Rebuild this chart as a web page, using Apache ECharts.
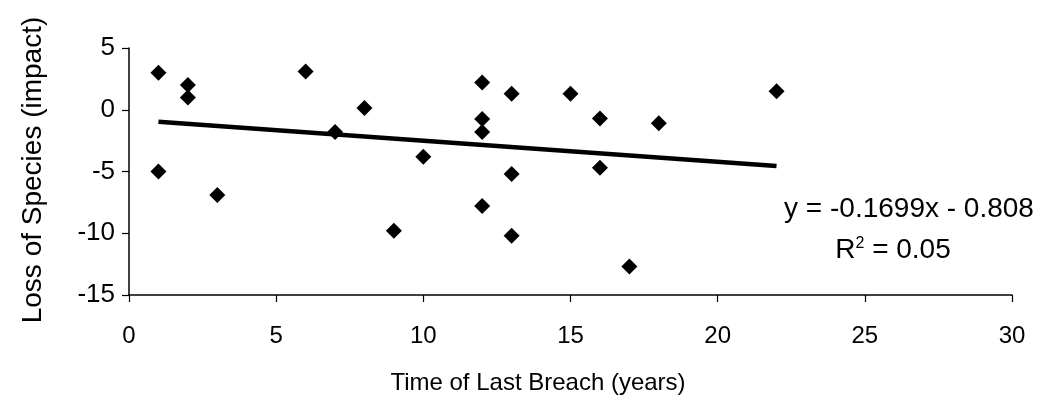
<!DOCTYPE html>
<html>
<head>
<meta charset="utf-8">
<script src="https://cdn.jsdelivr.net/npm/echarts@6/dist/echarts.min.js"></script>
<style>
  html, body { margin: 0; padding: 0; background: #fff; }
  #chart { width: 1043px; height: 408px; }
</style>
</head>
<body>
<div id="chart"></div>
<script>
// Years since the last breach, and the matching loss of species (impact)
const breachYears = [1, 1, 2, 2, 3, 6, 7, 8, 9, 10, 12, 12, 12, 12, 13, 13, 13, 15, 16, 16, 17, 18, 22];
const speciesLoss = [3, -5, 2, 1, -6.9, 3.1, -1.8, 0.15, -9.8, -3.8, 2.2, -0.75, -1.8, -7.8, 1.3, -5.2, -10.2, 1.3, -0.7, -4.7, -12.7, -1.1, 1.5];

// Linear fit reported on the chart
const fitSlope = -0.1699;
const fitIntercept = -0.808;
const fitR2 = 0.05;

// Axis ticks
const xTicks = [0, 5, 10, 15, 20, 25, 30];
const yTicks = [-15, -10, -5, 0, 5];

const points = breachYears.map((x, i) => [x, speciesLoss[i]]);
const xLo = Math.min(...breachYears);
const xHi = Math.max(...breachYears);
const fitLine = [xLo, xHi].map(x => [x, fitSlope * x + fitIntercept]);

const FONT = '"Liberation Sans", Arial, Helvetica, sans-serif';

const chart = echarts.init(document.getElementById('chart'), null, { renderer: 'canvas' });

chart.setOption({
  backgroundColor: '#ffffff',
  animation: false,
  grid: { left: 129, right: 31, top: 48, bottom: 113, containLabel: false },
  xAxis: {
    type: 'value',
    min: xTicks[0],
    max: xTicks[xTicks.length - 1],
    interval: 5,
    axisLine: { show: true, onZero: false, lineStyle: { color: '#000', width: 1.5 } },
    axisTick: { show: true, inside: false, length: 7, lineStyle: { color: '#000', width: 1.2 } },
    axisLabel: { color: '#000', fontSize: 24, fontFamily: FONT, margin: 29 },
    splitLine: { show: false }
  },
  yAxis: {
    type: 'value',
    min: yTicks[0],
    max: yTicks[yTicks.length - 1],
    interval: 5,
    axisLine: { show: true, onZero: false, lineStyle: { color: '#000', width: 1.5 } },
    axisTick: { show: true, inside: false, length: 7, lineStyle: { color: '#000', width: 1.2 } },
    axisLabel: { color: '#000', fontSize: 26, fontFamily: FONT, margin: 14 },
    splitLine: { show: false }
  },
  series: [
    {
      name: 'Observations',
      type: 'scatter',
      data: points,
      symbol: 'diamond',
      symbolSize: 16,
      itemStyle: { color: '#000', opacity: 1 },
      z: 3
    },
    {
      name: 'Linear fit',
      type: 'line',
      data: fitLine,
      symbol: 'none',
      lineStyle: { color: '#000', width: 4.5 },
      z: 2
    }
  ],
  graphic: [
    {
      type: 'text',
      x: 538, y: 383,
      style: {
        text: 'Time of Last Breach (years)',
        fill: '#000', font: '24px ' + FONT,
        align: 'center', verticalAlign: 'middle'
      }
    },
    {
      type: 'text',
      x: 33, y: 170,
      rotation: Math.PI / 2,
      style: {
        text: 'Loss of Species (impact)',
        fill: '#000', font: '28px ' + FONT,
        align: 'center', verticalAlign: 'middle'
      }
    },
    {
      type: 'text',
      x: 909, y: 209,
      style: {
        text: 'y = ' + fitSlope + 'x - ' + Math.abs(fitIntercept),
        fill: '#000', font: '28px ' + FONT,
        align: 'center', verticalAlign: 'middle'
      }
    },
    {
      type: 'text',
      x: 893, y: 250,
      style: {
        text: '{r|R}{s|2}{r| = ' + fitR2.toFixed(2) + '}',
        fill: '#000',
        align: 'center', verticalAlign: 'middle',
        rich: {
          r: { fontSize: 28, fontFamily: FONT, fill: '#000' },
          s: { fontSize: 16, fontFamily: FONT, fill: '#000', verticalAlign: 'top', padding: [0, 0, 12, 0] }
        }
      }
    }
  ]
});
</script>
</body>
</html>
